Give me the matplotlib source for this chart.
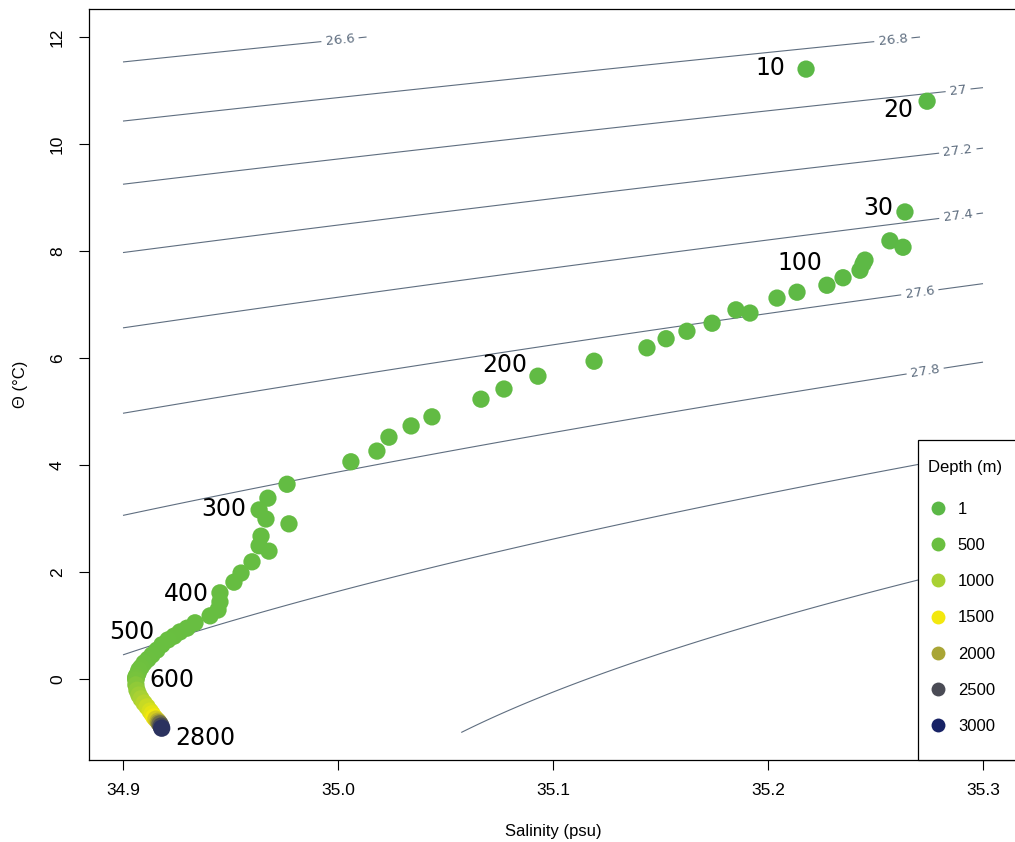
import numpy as np
import matplotlib
matplotlib.use("Agg")
import matplotlib.pyplot as plt
from matplotlib.colors import LinearSegmentedColormap, Normalize
from matplotlib.lines import Line2D
from matplotlib.patches import Rectangle

# profile values (salinity psu, theta degC, depth m)
salinity = [35.2177, 35.2740, 35.2637, 35.2567, 35.2628, 35.2451, 35.2442, 35.2428, 35.2349, 35.2274,
            35.2135, 35.2042, 35.1851, 35.1916, 35.1740, 35.1623, 35.1526, 35.1437, 35.1191, 35.0930,
            35.0772, 35.0665, 35.0437, 35.0340, 35.0237, 35.0181, 35.0060, 34.9763, 34.9674, 34.9633,
            34.9665, 34.9772, 34.9642, 34.9633, 34.9679, 34.9600, 34.9549, 34.9516, 34.9451, 34.9451,
            34.9442, 34.9405, 34.9335, 34.9298, 34.9265, 34.9237, 34.9209, 34.9181, 34.9158, 34.9135,
            34.9116, 34.9098, 34.9084, 34.9074, 34.9070, 34.9065, 34.9060, 34.9060, 34.9060, 34.9060,
            34.9060, 34.9065, 34.9074, 34.9084, 34.9098, 34.9112, 34.9126, 34.9135, 34.9144, 34.9153,
            34.9163, 34.9167, 34.9172, 34.9177, 34.9180]
theta = [11.40, 10.80, 8.73, 8.19, 8.07, 7.83, 7.76, 7.64, 7.50, 7.36,
         7.23, 7.12, 6.90, 6.84, 6.65, 6.50, 6.36, 6.19, 5.94, 5.66,
         5.42, 5.23, 4.90, 4.73, 4.52, 4.26, 4.06, 3.64, 3.38, 3.16,
         2.99, 2.90, 2.67, 2.49, 2.39, 2.19, 1.98, 1.81, 1.61, 1.44,
         1.29, 1.18, 1.05, 0.95, 0.88, 0.80, 0.73, 0.64, 0.54, 0.45,
         0.37, 0.30, 0.22, 0.17, 0.11, 0.07, 0.04, 0.02, 0.00, -0.02,
         -0.11, -0.21, -0.30, -0.37, -0.45, -0.52, -0.60, -0.65, -0.71, -0.75,
         -0.79, -0.82, -0.84, -0.88, -0.92]
depth = list(range(10, 610, 10)) + [700, 800, 900, 1000, 1100, 1200, 1300, 1400, 1500,
                                    1700, 1900, 2100, 2300, 2500, 2800]

label_depths = [10, 20, 30, 100, 200, 300, 400, 500, 600, 2800]
# text offsets (pixels) from the labelled point
label_offsets = [(-36, 1), (-29, -9), (-27, 4), (-27, 22), (-33, 11), (-35, 1),
                 (-34, 8), (-20, 23), (36, 0), (44, -10)]

legend_depths = [1, 500, 1000, 1500, 2000, 2500, 3000]
legend_colors = ["#5bb846", "#6abf40", "#a9d133", "#f3e80e", "#a9a535", "#4a4b55", "#172265"]

isopycnals = [26.6, 26.8, 27.0, 27.2, 27.4, 27.6, 27.8, 28.0, 28.2]
labelled_levels = [26.6, 26.8, 27.0, 27.2, 27.4, 27.6, 27.8]
clabel_spots = [(35.0010, 11.92), (35.2581, 11.94), (35.2884, 11.01), (35.2884, 9.83),
                (35.2884, 8.62), (35.2707, 7.20), (35.2730, 5.78)]


def sigma0(S, T):
    # UNESCO 1983 density at surface pressure, minus 1000
    rw = (999.842594 + 6.793952e-2 * T - 9.095290e-3 * T**2 + 1.001685e-4 * T**3
          - 1.120083e-6 * T**4 + 6.536332e-9 * T**5)
    a = 0.824493 - 4.0899e-3 * T + 7.6438e-5 * T**2 - 8.2467e-7 * T**3 + 5.3875e-9 * T**4
    b = -5.72466e-3 + 1.0227e-4 * T - 1.6546e-6 * T**2
    return rw + a * S + b * S**1.5 + 4.8314e-4 * S**2 - 1000.0


stops = [(d - 1) / (3000 - 1) for d in legend_depths]
cmap = LinearSegmentedColormap.from_list("depth", list(zip(stops, legend_colors)))
norm = Normalize(vmin=1, vmax=3000)

fig = plt.figure(figsize=(10.15, 8.42), dpi=100)
ax = fig.add_axes([88.6 / 1015, (842 - 760.3) / 842, 928.8 / 1015, 751.1 / 842])
ax.set_xlim(34.884, 35.316)
ax.set_ylim(-1.52, 12.52)

line_col = "#5f6e80"
sg, tg = np.meshgrid(np.linspace(34.9, 35.3, 241), np.linspace(-1, 12, 400))
cs = ax.contour(sg, tg, sigma0(sg, tg), levels=isopycnals, colors=line_col, linewidths=0.8, zorder=1)
lbls = ax.clabel(cs, levels=labelled_levels, manual=clabel_spots, inline=True, inline_spacing=4,
                 fmt="%g", fontsize=9.5, colors=line_col)
for t in lbls:
    t.set_family("DejaVu Sans")

ax.scatter(salinity, theta, c=depth, cmap=cmap, norm=norm, s=155, linewidths=0, zorder=3)

for d, (dx, dy) in zip(label_depths, label_offsets):
    i = depth.index(d)
    ax.annotate(str(d), (salinity[i], theta[i]), xytext=(dx, dy), textcoords="offset pixels",
                ha="center", va="center", fontsize=17, family="DejaVu Sans", zorder=4)

ax.set_xticks([34.9, 35.0, 35.1, 35.2, 35.3])
ax.set_xticklabels(["34.9", "35.0", "35.1", "35.2", "35.3"])
ax.set_yticks([0, 2, 4, 6, 8, 10, 12])
ax.tick_params(axis="both", direction="out", length=7, width=0.8, labelsize=12.5)
ax.tick_params(axis="x", pad=9)
ax.tick_params(axis="y", pad=10)
for t in ax.get_yticklabels():
    t.set_rotation(90)
    t.set_va("center")
for t in ax.get_xticklabels() + ax.get_yticklabels():
    t.set_family("Liberation Sans")
for sp in ax.spines.values():
    sp.set_linewidth(0.9)

ax.set_xlabel("Salinity (psu)", fontsize=12, family="Liberation Sans", labelpad=19)
ax.set_ylabel("Θ (°C)", fontsize=12, family="Liberation Sans", labelpad=16)

# legend box, title and entries
box = Rectangle((918 / 1015, 1 - 760 / 842), 112 / 1015, 320 / 842, transform=fig.transFigure,
                facecolor="white", edgecolor="black", linewidth=0.9, zorder=5)
fig.add_artist(box)
fig.text(928 / 1015, 1 - 468 / 842, "Depth (m)", ha="left", va="center", fontsize=12,
         family="Liberation Sans", zorder=6)
handles = [Line2D([], [], marker="o", linestyle="none", markersize=10, markerfacecolor=c,
                  markeredgewidth=0) for c in legend_colors]
leg = fig.legend(handles, [str(d) for d in legend_depths], loc="center left",
                 bbox_to_anchor=(929.5 / 1015, 1 - 618 / 842), bbox_transform=fig.transFigure,
                 borderaxespad=0, borderpad=0, frameon=False,
                 prop={"family": "Liberation Sans", "size": 12},
                 labelspacing=1.27, handlelength=1.0, handletextpad=0.7)
leg.set_zorder(6)

fig.savefig("out.png", dpi=100)
